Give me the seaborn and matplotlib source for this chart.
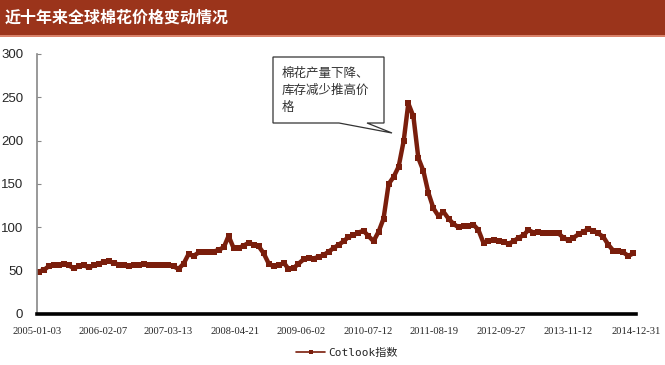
import matplotlib
matplotlib.use("Agg")
import matplotlib.pyplot as plt
import numpy as np
import pandas as pd
import seaborn as sns
from matplotlib.patches import Polygon, Rectangle
from matplotlib.lines import Line2D

# ---------------- data ----------------
title_text = "近十年来全球棉花价格变动情况"
series_name = "Cotlook指数"
annotation_text = "棉花产量下降、\n库存减少推高价\n格"

v2005 = [49, 51, 55, 57, 56, 58, 56, 53, 55, 56, 54, 56]
v2006 = [58, 60, 61, 59, 57, 56, 55, 57, 56, 58, 57, 56]
v2007 = [57, 56, 56, 55, 52, 58, 69, 67, 71, 71, 72, 72]
v2008 = [74, 77, 90, 76, 76, 79, 82, 80, 78, 70, 58, 55]
v2009 = [56, 59, 52, 53, 58, 63, 65, 64, 66, 68, 72, 76]
v2010 = [80, 84, 89, 91, 94, 96, 90, 84, 95, 110, 150, 158]
v2011 = [170, 200, 243, 228, 180, 165, 140, 122, 113, 118, 110, 104]
v2012 = [100, 102, 101, 103, 97, 82, 84, 85, 84, 83, 81, 84]
v2013 = [88, 91, 97, 94, 95, 93, 94, 93, 93, 88, 85, 88]
v2014 = [92, 95, 98, 96, 93, 89, 80, 73, 73, 71, 67, 70]
values = v2005 + v2006 + v2007 + v2008 + v2009 + v2010 + v2011 + v2012 + v2013 + v2014
dates = pd.date_range("2005-01-01", periods=len(values), freq="MS") + pd.Timedelta(days=14)

tick_labels = ["2005-01-03", "2006-02-07", "2007-03-13", "2008-04-21", "2009-06-02",
               "2010-07-12", "2011-08-19", "2012-09-27", "2013-11-12", "2014-12-31"]
y_ticks = [0, 50, 100, 150, 200, 250, 300]

df = pd.DataFrame({"date": dates, "value": values})

# ---------------- style ----------------
sns.set_style("white")
plt.rcParams["font.family"] = ["Liberation Sans", "Noto Sans CJK SC", "DejaVu Sans"]

W, H = 665, 365
fig = plt.figure(figsize=(W / 100, H / 100), dpi=100)
fig.patch.set_facecolor("white")

def fx(x):
    return x / W

def fy(y):
    return 1 - y / H

# title bar
fig.patches.append(Rectangle((0, fy(35)), 1, 35 / H, transform=fig.transFigure,
                             facecolor="#9B341B", edgecolor="none", zorder=0))
fig.patches.append(Rectangle((0, fy(37)), 1, 2 / H, transform=fig.transFigure,
                             facecolor="#D9826A", edgecolor="none", zorder=0))
fig.text(fx(5), fy(18), title_text, color="white", fontsize=11.5,
         family=["Noto Sans CJK SC"], fontweight="bold", va="center", ha="left")

ax = fig.add_axes([fx(37), fy(314), fx(636) - fx(37), (314 - 54) / H])

line_color = "#7A1E0C"
sns.lineplot(data=df, x="date", y="value", ax=ax, color=line_color, linewidth=3.2,
             marker="s", markersize=4.2, markeredgewidth=0, label=series_name, legend=False)

ax.set_xlim(pd.Timestamp("2005-01-03"), pd.Timestamp("2014-12-31"))
ax.set_ylim(0, 300)
ax.set_yticks(y_ticks)
ax.set_yticklabels([str(v) for v in y_ticks], fontsize=9.5, family=["Liberation Sans"])
tick_pos = [pd.Timestamp(t) for t in tick_labels]
ax.set_xticks(tick_pos)
ax.set_xticklabels(tick_labels, fontsize=7.6, family=["Liberation Serif"])
ax.set_xlabel("")
ax.set_ylabel("")

for s in ["top", "right"]:
    ax.spines[s].set_visible(False)
ax.spines["left"].set_color("#888888")
ax.spines["left"].set_linewidth(1.2)
ax.spines["bottom"].set_color("black")
ax.spines["bottom"].set_linewidth(2.6)
ax.tick_params(axis="y", direction="in", length=3, width=0.8, color="#888888", pad=10, left=True)
ax.tick_params(axis="x", length=0, pad=9)
ax.grid(False)

# callout
pts_px = [(273, 57), (384, 57), (384, 123), (367, 123), (392, 133), (339, 123), (273, 123)]
poly = Polygon([(fx(x), fy(y)) for x, y in pts_px], closed=True, transform=fig.transFigure,
               facecolor="white", edgecolor="#333333", linewidth=0.9, zorder=5)
fig.patches.append(poly)
fig.text(fx(282), fy(67), annotation_text, fontsize=9, family=["Noto Sans CJK SC"],
         color="#333333", va="top", ha="left", linespacing=1.4, zorder=6)

# legend
handle = Line2D([0], [0], color=line_color, linewidth=1.2, marker="s", markersize=2.5,
                markeredgewidth=0)
fig.legend([handle], [series_name], loc="center", bbox_to_anchor=(fx(347), fy(353)),
           frameon=False, handlelength=2.6, handletextpad=0.3,
           prop={"family": ["DejaVu Sans Mono", "Noto Sans CJK SC"], "size": 8})

fig.savefig("out.png", dpi=100, facecolor="white")
